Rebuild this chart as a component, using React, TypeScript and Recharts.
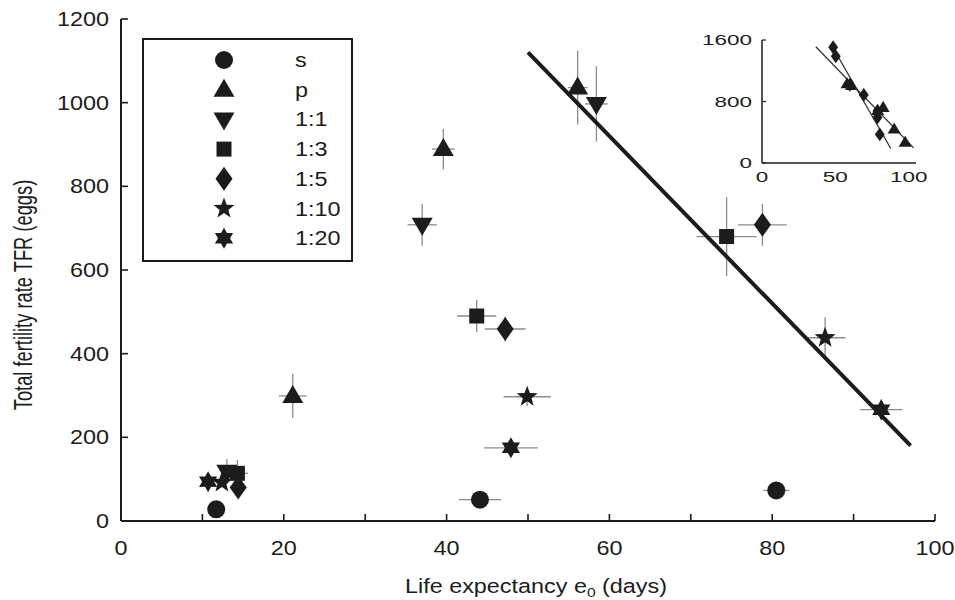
import React from "react";
import { ScatterChart, Scatter, XAxis, YAxis, ErrorBar, Legend } from "recharts";

const FONT = '"Liberation Sans", Arial, Helvetica, sans-serif';
const INK = "#1c1c1c";
const BAR = "#8c8c8c";
// the source figure has horizontally stretched lettering
const SX = 1.2;
const INSET_SX = 1.45;

type Pt = { x: number; y: number; ex: number; ey: number };
type Kind = "circle" | "up" | "down" | "square" | "diamond" | "star5" | "star6";

const X_TICKS = [0, 10, 20, 30, 40, 50, 60, 70, 80, 90, 100];
const Y_TICKS = [0, 200, 400, 600, 800, 1000, 1200];

// x = life expectancy (days), y = TFR (eggs), ex / ey = half error bars
const S_PTS: Pt[] = [
  { x: 11.7, y: 28, ex: 0, ey: 0 },
  { x: 44.1, y: 51, ex: 2.6, ey: 0 },
  { x: 80.5, y: 73, ex: 1.6, ey: 0 },
];
const P_PTS: Pt[] = [
  { x: 21.1, y: 299, ex: 1.7, ey: 53 },
  { x: 39.6, y: 889, ex: 1.4, ey: 48 },
  { x: 56.1, y: 1036, ex: 1.2, ey: 88 },
];
const R1_1: Pt[] = [
  { x: 13.0, y: 118, ex: 0.6, ey: 30 },
  { x: 37.0, y: 708, ex: 1.8, ey: 50 },
  { x: 58.4, y: 997, ex: 1.4, ey: 90 },
];
const R1_3: Pt[] = [
  { x: 14.3, y: 114, ex: 1.3, ey: 32 },
  { x: 43.7, y: 490, ex: 2.4, ey: 38 },
  { x: 74.4, y: 680, ex: 3.7, ey: 94 },
];
const R1_5: Pt[] = [
  { x: 14.4, y: 80, ex: 0, ey: 0 },
  { x: 47.2, y: 459, ex: 2.5, ey: 30 },
  { x: 78.8, y: 708, ex: 3.0, ey: 50 },
];
const R1_10: Pt[] = [
  { x: 12.4, y: 92, ex: 0, ey: 0 },
  { x: 49.9, y: 297, ex: 2.9, ey: 22 },
  { x: 86.5, y: 438, ex: 2.5, ey: 49 },
];
const R1_20: Pt[] = [
  { x: 10.7, y: 94, ex: 0, ey: 0 },
  { x: 47.9, y: 175, ex: 3.3, ey: 0 },
  { x: 93.4, y: 266, ex: 2.6, ey: 25 },
];
const REG_LINE = [
  { x: 50, y: 1120 },
  { x: 97, y: 180 },
];

const INSET_X_TICKS = [0, 50, 100];
const INSET_Y_TICKS = [0, 800, 1600];
const INSET_DIAMONDS = [
  { x: 48.5, y: 1506 },
  { x: 50.3, y: 1389 },
  { x: 59.9, y: 1018 },
  { x: 69.4, y: 886 },
  { x: 78.7, y: 678 },
  { x: 78.7, y: 591 },
  { x: 80.3, y: 372 },
];
const INSET_TRIANGLES = [
  { x: 58.0, y: 1028 },
  { x: 61.0, y: 1006 },
  { x: 78.9, y: 680 },
  { x: 82.6, y: 721 },
  { x: 90.1, y: 439 },
  { x: 97.6, y: 267 },
];
const INSET_LINE_A = [
  { x: 36.7, y: 1512 },
  { x: 103.4, y: 197 },
];
const INSET_LINE_B = [
  { x: 48.3, y: 1503 },
  { x: 87.8, y: 189 },
];

const SERIES: { name: string; kind: Kind; data: Pt[] }[] = [
  { name: "s", kind: "circle", data: S_PTS },
  { name: "p", kind: "up", data: P_PTS },
  { name: "1:1", kind: "down", data: R1_1 },
  { name: "1:3", kind: "square", data: R1_3 },
  { name: "1:5", kind: "diamond", data: R1_5 },
  { name: "1:10", kind: "star5", data: R1_10 },
  { name: "1:20", kind: "star6", data: R1_20 },
];

function starPoints(cx: number, cy: number, n: number, ro: number, ri: number) {
  const pts: string[] = [];
  for (let i = 0; i < n * 2; i++) {
    const r = i % 2 === 0 ? ro : ri;
    const a = -Math.PI / 2 + (i * Math.PI) / n;
    pts.push(`${cx + r * Math.cos(a)},${cy + r * Math.sin(a)}`);
  }
  return pts.join(" ");
}

function Marker({ kind, cx, cy, k = 1 }: { kind: Kind; cx: number; cy: number; k?: number }) {
  if (cx == null || cy == null) return null;
  switch (kind) {
    case "circle":
      return <circle cx={cx} cy={cy} r={9 * k} fill={INK} />;
    case "up":
      return (
        <polygon
          points={`${cx},${cy - 11 * k} ${cx + 10.5 * k},${cy + 7 * k} ${cx - 10.5 * k},${cy + 7 * k}`}
          fill={INK}
        />
      );
    case "down":
      return (
        <polygon
          points={`${cx},${cy + 11 * k} ${cx + 10.5 * k},${cy - 7 * k} ${cx - 10.5 * k},${cy - 7 * k}`}
          fill={INK}
        />
      );
    case "square":
      return <rect x={cx - 7.5 * k} y={cy - 7.5 * k} width={15 * k} height={15 * k} fill={INK} />;
    case "diamond":
      return (
        <polygon
          points={`${cx},${cy - 12 * k} ${cx + 8.5 * k},${cy} ${cx},${cy + 12 * k} ${cx - 8.5 * k},${cy}`}
          fill={INK}
        />
      );
    case "star5":
      return <polygon points={starPoints(cx, cy, 5, 11 * k, 4.6 * k)} fill={INK} />;
    case "star6":
      return <polygon points={starPoints(cx, cy, 6, 10.5 * k, 6 * k)} fill={INK} />;
  }
  return null;
}

const XTick = (p: any) => {
  const { x, y, payload } = p;
  const v = payload.value;
  return (
    <g>
      <line x1={x} x2={x} y1={y} y2={y - 7} stroke={INK} strokeWidth={1.6} />
      {v % 20 === 0 && (
        <text
          transform={`translate(${x},${y + 34}) scale(${SX},1)`}
          textAnchor="middle"
          fontSize={19.5}
          fontFamily={FONT}
          fill={INK}
        >
          {v}
        </text>
      )}
    </g>
  );
};

const YTick = (p: any) => {
  const { x, y, payload } = p;
  return (
    <g>
      <line x1={x} x2={x + 7} y1={y} y2={y} stroke={INK} strokeWidth={1.6} />
      <text
        transform={`translate(${x - 12},${y + 7}) scale(${SX},1)`}
        textAnchor="end"
        fontSize={19.5}
        fontFamily={FONT}
        fill={INK}
      >
        {payload.value}
      </text>
    </g>
  );
};

const XTitle = (p: any) => {
  const vb = p.viewBox;
  return (
    <text
      transform={`translate(${vb.x + vb.width / 2 + 8},${vb.y + 72}) scale(${SX},1)`}
      textAnchor="middle"
      fontSize={19.5}
      fontFamily={FONT}
      fill={INK}
    >
      <tspan>Life expectancy e</tspan>
      <tspan fontSize={13} dy={4}>0</tspan>
      <tspan dy={-4}> (days)</tspan>
    </text>
  );
};

const YTitle = (p: any) => {
  const vb = p.viewBox;
  return (
    <text
      transform={`translate(32,${vb.y + vb.height / 2 + 25}) rotate(-90) scale(1,1.42)`}
      textAnchor="middle"
      fontSize={18.3}
      fontFamily={FONT}
      fill={INK}
    >
      Total fertility rate TFR (eggs)
    </text>
  );
};

const InsetXTick = (p: any) => {
  const { x, y, payload } = p;
  return (
    <text
      transform={`translate(${x},${y + 19}) scale(${INSET_SX},1)`}
      textAnchor="middle"
      fontSize={15.5}
      fontFamily={FONT}
      fill={INK}
    >
      {payload.value}
    </text>
  );
};

const InsetYTick = (p: any) => {
  const { x, y, payload } = p;
  return (
    <g>
      <line x1={x} x2={x + 4} y1={y} y2={y} stroke={INK} strokeWidth={1.2} />
      <text
        transform={`translate(${x - 10},${y + 5}) scale(${INSET_SX},1)`}
        textAnchor="end"
        fontSize={15.5}
        fontFamily={FONT}
        fill={INK}
      >
        {payload.value}
      </text>
    </g>
  );
};

function LegendBox() {
  return (
    <svg width={211} height={224} style={{ display: "block" }}>
      <rect x={1} y={1} width={209} height={222} fill="#fff" stroke={INK} strokeWidth={2} />
      {SERIES.map((s, i) => {
        const cy = 22 + i * 29.7;
        return (
          <g key={s.name}>
            <Marker kind={s.kind} cx={82} cy={cy} />
            <text
              transform={`translate(153,${cy + 7}) scale(${SX},1)`}
              fontSize={19.5}
              fontFamily={FONT}
              fill={INK}
            >
              {s.name}
            </text>
          </g>
        );
      })}
    </svg>
  );
}

function Inset() {
  return (
    <ScatterChart width={240} height={175} margin={{ top: 20, right: 14, bottom: 0, left: 0 }}>
      <XAxis
        type="number"
        dataKey="x"
        domain={[0, 105]}
        ticks={INSET_X_TICKS}
        interval={0}
        tickSize={0}
        tickMargin={0}
        height={32}
        tick={<InsetXTick />}
        axisLine={{ stroke: INK, strokeWidth: 1.5 }}
        tickLine={false}
      />
      <YAxis
        type="number"
        dataKey="y"
        domain={[0, 1600]}
        ticks={INSET_Y_TICKS}
        interval={0}
        tickSize={0}
        tickMargin={0}
        width={72}
        tick={<InsetYTick />}
        axisLine={{ stroke: INK, strokeWidth: 1.5 }}
        tickLine={false}
      />
      <Scatter
        data={INSET_LINE_A}
        line={{ stroke: "#333", strokeWidth: 1.3 }}
        shape={() => <g />}
        isAnimationActive={false}
      />
      <Scatter
        data={INSET_LINE_B}
        line={{ stroke: "#333", strokeWidth: 1.3 }}
        shape={() => <g />}
        isAnimationActive={false}
      />
      <Scatter
        data={INSET_DIAMONDS}
        shape={(p: any) => <Marker kind="diamond" cx={p.cx} cy={p.cy} k={0.58} />}
        isAnimationActive={false}
      />
      <Scatter
        data={INSET_TRIANGLES}
        shape={(p: any) => <Marker kind="up" cx={p.cx} cy={p.cy} k={0.62} />}
        isAnimationActive={false}
      />
    </ScatterChart>
  );
}

export default function App() {
  return (
    <div style={{ position: "absolute", left: 0, top: 0, width: 955, height: 600, background: "#fff" }}>
      <ScatterChart width={955} height={600} margin={{ top: 19, right: 20, bottom: 0, left: 0 }}>
        <XAxis
          type="number"
          dataKey="x"
          domain={[0, 100]}
          ticks={X_TICKS}
          interval={0}
          tickSize={0}
          tickMargin={0}
          height={79}
          tick={<XTick />}
          tickLine={false}
          axisLine={{ stroke: INK, strokeWidth: 2 }}
          label={<XTitle />}
        />
        <YAxis
          type="number"
          dataKey="y"
          domain={[0, 1200]}
          ticks={Y_TICKS}
          interval={0}
          tickSize={0}
          tickMargin={0}
          width={121}
          tick={<YTick />}
          tickLine={false}
          axisLine={{ stroke: INK, strokeWidth: 2 }}
          label={<YTitle />}
        />
        <Legend
          layout="vertical"
          align="center"
          verticalAlign="middle"
          content={() => <LegendBox />}
          wrapperStyle={{ left: 142, top: 38, width: 211, height: 224 }}
        />
        <Scatter
          name="fit"
          data={REG_LINE}
          line={{ stroke: INK, strokeWidth: 4 }}
          shape={() => <g />}
          legendType="none"
          isAnimationActive={false}
        />
        {SERIES.map((s) => (
          <Scatter
            key={s.name}
            name={s.name}
            data={s.data}
            shape={(p: any) => <Marker kind={s.kind} cx={p.cx} cy={p.cy} />}
            isAnimationActive={false}
          >
            <ErrorBar dataKey="ex" direction="x" width={0} stroke={BAR} strokeWidth={1.3} />
            <ErrorBar dataKey="ey" direction="y" width={0} stroke={BAR} strokeWidth={1.3} />
          </Scatter>
        ))}
      </ScatterChart>
      <div style={{ position: "absolute", left: 690, top: 20 }}>
        <Inset />
      </div>
    </div>
  );
}
